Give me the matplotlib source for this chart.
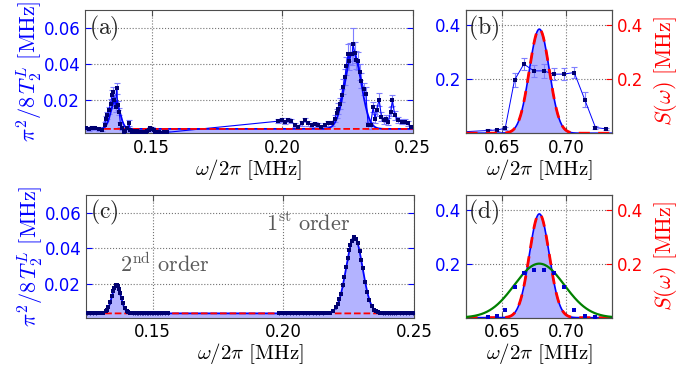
#!/usr/bin/env python3
"""
Relaxation spectrum figure: measured (a,b) and simulated (c,d) pi^2/8T2 vs
drive frequency, with the fitted noise spectrum S(w) on the right panels.

    python3 plot.py
"""

import numpy as np
import matplotlib
matplotlib.use("Agg")
import matplotlib.pyplot as plt

plt.rcParams["mathtext.fontset"] = "cm"

# ---- panel (a): measured, low-frequency scan ---------------------------
A_FREQ_LO = [0.1247, 0.1259, 0.1272, 0.1285, 0.1298, 0.1310, 0.1320, 0.1325,
             0.1330, 0.1336, 0.1343, 0.1349, 0.1353, 0.1358, 0.1362, 0.1366,
             0.1371, 0.1376, 0.1381, 0.1387, 0.1394, 0.1400, 0.1407, 0.1413,
             0.1419, 0.1426, 0.1432, 0.1439, 0.1445, 0.1451, 0.1458, 0.1464,
             0.1471, 0.1477, 0.1483, 0.1490, 0.1496, 0.1502, 0.1509, 0.1515,
             0.1522, 0.1528, 0.1534, 0.1547, 0.1560]
A_T2_LO = [0.0040, 0.0038, 0.0042, 0.0040, 0.0036, 0.0033, 0.0058, 0.0095,
           0.0113, 0.0141, 0.0178, 0.0224, 0.0242, 0.0196, 0.0159, 0.0264,
           0.0170, 0.0132, 0.0062, 0.0040, 0.0021, 0.0025, 0.0040, 0.0070,
           0.0031, 0.0021, 0.0025, 0.0018, 0.0025, 0.0021, 0.0018, 0.0021,
           0.0021, 0.0018, 0.0025, 0.0031, 0.0040, 0.0036, 0.0031, 0.0018,
           0.0018, 0.0018, 0.0016, 0.0018, 0.0018]
A_ERR_LO = [0.0010, 0.0010, 0.0010, 0.0010, 0.0010, 0.0010, 0.0015, 0.0015,
            0.0020, 0.0020, 0.0025, 0.0030, 0.0030, 0.0030, 0.0025, 0.0030,
            0.0025, 0.0020, 0.0015, 0.0010, 0.0010, 0.0010, 0.0010, 0.0015,
            0.0010, 0.0008, 0.0008, 0.0008, 0.0008, 0.0008, 0.0008, 0.0008,
            0.0008, 0.0008, 0.0008, 0.0008, 0.0010, 0.0010, 0.0008, 0.0008,
            0.0008, 0.0008, 0.0008, 0.0008, 0.0008]

# ---- panel (a): measured, high-frequency scan --------------------------
A_FREQ_HI = [0.1985, 0.1998, 0.2011, 0.2024, 0.2036, 0.2049, 0.2062, 0.2075,
             0.2087, 0.2100, 0.2113, 0.2126, 0.2138, 0.2151, 0.2164, 0.2177,
             0.2190, 0.2202, 0.2209, 0.2215, 0.2221, 0.2228, 0.2234, 0.2241,
             0.2247, 0.2253, 0.2257, 0.2262, 0.2269, 0.2272, 0.2279, 0.2285,
             0.2292, 0.2298, 0.2304, 0.2313, 0.2321, 0.2330, 0.2339, 0.2349,
             0.2356, 0.2362, 0.2372, 0.2381, 0.2390, 0.2400, 0.2407, 0.2416,
             0.2423, 0.2432, 0.2445, 0.2458, 0.2470, 0.2483, 0.2496]
A_T2_HI = [0.0080, 0.0086, 0.0077, 0.0086, 0.0080, 0.0058, 0.0049, 0.0068,
           0.0086, 0.0068, 0.0058, 0.0062, 0.0058, 0.0049, 0.0058, 0.0068,
           0.0068, 0.0095, 0.0123, 0.0150, 0.0178, 0.0224, 0.0273, 0.0325,
           0.0389, 0.0453, 0.0416, 0.0457, 0.0453, 0.0508, 0.0462, 0.0420,
           0.0416, 0.0352, 0.0306, 0.0260, 0.0233, 0.0058, 0.0058, 0.0159,
           0.0095, 0.0141, 0.0200, 0.0104, 0.0086, 0.0095, 0.0077, 0.0132,
           0.0196, 0.0113, 0.0086, 0.0077, 0.0077, 0.0068, 0.0046]
A_ERR_HI = [0.0012, 0.0012, 0.0012, 0.0012, 0.0012, 0.0012, 0.0012, 0.0012,
            0.0012, 0.0012, 0.0012, 0.0012, 0.0012, 0.0012, 0.0012, 0.0012,
            0.0015, 0.0020, 0.0025, 0.0030, 0.0030, 0.0035, 0.0040, 0.0045,
            0.0050, 0.0055, 0.0050, 0.0060, 0.0060, 0.0090, 0.0060, 0.0050,
            0.0050, 0.0045, 0.0040, 0.0035, 0.0035, 0.0020, 0.0020, 0.0030,
            0.0025, 0.0030, 0.0035, 0.0025, 0.0020, 0.0020, 0.0020, 0.0025,
            0.0030, 0.0025, 0.0015, 0.0015, 0.0015, 0.0012, 0.0012]

# ---- panel (c): simulated points at the same frequencies ---------------
C_T2_LO = [0.0037, 0.0037, 0.0037, 0.0037, 0.0038, 0.0040, 0.0049, 0.0058,
           0.0073, 0.0098, 0.0134, 0.0164, 0.0181, 0.0194, 0.0196, 0.0190,
           0.0173, 0.0149, 0.0123, 0.0093, 0.0067, 0.0052, 0.0043, 0.0039,
           0.0038, 0.0037, 0.0037, 0.0037, 0.0037, 0.0037, 0.0037, 0.0037,
           0.0037, 0.0037, 0.0037, 0.0037, 0.0037, 0.0037, 0.0037, 0.0037,
           0.0037, 0.0037, 0.0037, 0.0037, 0.0037]
C_T2_HI = [0.0037, 0.0037, 0.0037, 0.0037, 0.0037, 0.0037, 0.0037, 0.0037,
           0.0037, 0.0037, 0.0037, 0.0037, 0.0037, 0.0037, 0.0038, 0.0041,
           0.0050, 0.0070, 0.0091, 0.0116, 0.0148, 0.0193, 0.0239, 0.0296,
           0.0345, 0.0391, 0.0417, 0.0442, 0.0462, 0.0464, 0.0453, 0.0428,
           0.0384, 0.0337, 0.0288, 0.0215, 0.0159, 0.0111, 0.0078, 0.0057,
           0.0048, 0.0043, 0.0039, 0.0037, 0.0037, 0.0037, 0.0037, 0.0037,
           0.0037, 0.0037, 0.0037, 0.0037, 0.0037, 0.0037, 0.0037]
C_ERR = 0.0007

# ---- panels (b), (d): around the carrier -------------------------------
B_FREQ = [0.6180, 0.6388, 0.6458, 0.6523, 0.6596, 0.6669, 0.6747, 0.6823,
          0.6903, 0.6981, 0.7063, 0.7145, 0.7229, 0.7313]
B_T2 = [0.005, 0.010, 0.012, 0.018, 0.196, 0.255, 0.230, 0.230,
        0.218, 0.218, 0.224, 0.124, 0.021, 0.016]
B_ERR = [0.004, 0.005, 0.005, 0.006, 0.027, 0.022, 0.022, 0.025,
         0.022, 0.022, 0.022, 0.027, 0.006, 0.005]
D_FREQ = [0.6388, 0.6458, 0.6523, 0.6596, 0.6669, 0.6747, 0.6823, 0.6903,
          0.6981, 0.7063, 0.7145, 0.7229]
D_T2 = [0.004, 0.008, 0.030, 0.115, 0.164, 0.178, 0.176, 0.164,
        0.113, 0.028, 0.006, 0.003]

# ---- fitted model parameters (center, amplitude, sigma) ----------------
T2_BASE = 0.0037
ORDER2 = (0.1361, 0.0159, 0.0017)
ORDER1 = (0.2272, 0.0427, 0.0031)
S_FIT = (0.679, 0.384, 0.0078)
S_BROAD = (0.679, 0.200, 0.0195)

BLUE = "blue"
NAVY = "#000070"
ERRC = "#7f7fff"
FILL = "#b3b3ff"
GREY = "0.3"

XL_A, YL_A = (0.1245, 0.25), (0.0013, 0.070)
XL_B, YL_B = (0.622, 0.736), (0.0, 0.455)


def gauss(x, c):
    x0, amp, sig = c
    return amp * np.exp(-0.5 * ((x - x0) / sig) ** 2)


def style(ax, left_color=BLUE):
    ax.grid(True, ls=":", color="0.45", lw=0.8)
    ax.set_axisbelow(True)
    for s in ax.spines.values():
        s.set_color(GREY)
    ax.tick_params(direction="in", labelsize=12, length=4)
    ax.tick_params(axis="y", colors=left_color, right=True)
    ax.tick_params(axis="x", colors=GREY, labelcolor="black", top=True, pad=4)


def xlab(ax):
    ax.set_xlabel(r"$\omega/2\pi\ [\mathrm{MHz}]$", fontsize=15, labelpad=0)


def panel_tag(ax, s):
    ax.text(0.012, 0.97, r"$\mathrm{(%s)}$" % s, transform=ax.transAxes,
            fontsize=17, va="top", ha="left", color="0.15")


def left_panel(ax, tag):
    xf = np.linspace(XL_A[0], XL_A[1], 1200)
    model = T2_BASE + gauss(xf, ORDER2) + gauss(xf, ORDER1)
    ax.fill_between(xf, 0, model, color=FILL, lw=0)
    ax.plot(xf, np.full_like(xf, T2_BASE), "--", color="red", lw=1.3, zorder=4)
    style(ax)
    ax.set_xlim(*XL_A)
    ax.set_ylim(*YL_A)
    ax.set_xticks([0.15, 0.20, 0.25])
    ax.set_xticklabels(["0.15", "0.20", "0.25"])
    ax.set_yticks([0.02, 0.04, 0.06])
    ax.set_yticklabels(["0.02", "0.04", "0.06"])
    ax.set_ylabel(r"$\pi^2/8\,T_2^L\ [\mathrm{MHz}]$", color=BLUE, fontsize=16,
                  labelpad=-1)
    xlab(ax)
    panel_tag(ax, tag)
    return xf, model


def right_panel(ax, tag):
    xf = np.linspace(XL_B[0], XL_B[1], 600)
    s = gauss(xf, S_FIT)
    ax.fill_between(xf, 0, s, color=FILL, lw=0)
    ax.plot(xf, s, "-", color=BLUE, lw=1.2, zorder=3)
    style(ax)
    ax.tick_params(axis="y", right=False)
    ax.set_xlim(*XL_B)
    ax.set_ylim(*YL_B)
    ax.set_xticks([0.65, 0.70])
    ax.set_xticklabels(["0.65", "0.70"])
    ax.set_yticks([0.2, 0.4])
    ax.set_yticklabels(["0.2", "0.4"])
    xlab(ax)
    panel_tag(ax, tag)

    tw = ax.twinx()
    tw.set_ylim(*YL_B)
    tw.set_yticks([0.2, 0.4])
    tw.set_yticklabels(["0.2", "0.4"])
    tw.tick_params(direction="in", labelsize=12, length=4, colors="red")
    for sp in tw.spines.values():
        sp.set_color(GREY)
    tw.set_ylabel(r"$S(\omega)\ [\mathrm{MHz}]$", color="red", fontsize=16,
                  labelpad=6)
    tw.plot(xf, s, "--", color="red", lw=2.0, dashes=(4, 3), zorder=5)
    return xf, tw


def main():
    fig = plt.figure(figsize=(6.91, 3.66), dpi=100)
    ax_a = fig.add_axes([0.123, 0.636, 0.474, 0.337])
    ax_b = fig.add_axes([0.675, 0.636, 0.211, 0.337])
    ax_c = fig.add_axes([0.1245, 0.132, 0.4745, 0.336])
    ax_d = fig.add_axes([0.675, 0.132, 0.211, 0.336])

    # (a) measurement
    xf, model = left_panel(ax_a, "a")
    fx = A_FREQ_LO + A_FREQ_HI
    fy = A_T2_LO + A_T2_HI
    fe = A_ERR_LO + A_ERR_HI
    ax_a.errorbar(fx, fy, yerr=fe, fmt="none", ecolor=ERRC, elinewidth=0.8,
                  capsize=2.5, capthick=0.8, zorder=2)
    ax_a.plot(fx, fy, "-", color=BLUE, lw=0.8, zorder=3)
    ax_a.plot(xf, model, "-", color=BLUE, lw=1.3, zorder=3)
    ax_a.plot(fx, fy, "s", color=NAVY, ms=2.6, mew=0, zorder=5)

    # (c) simulation
    xf, model = left_panel(ax_c, "c")
    ax_c.plot(xf, model, "-", color=BLUE, lw=1.3, zorder=3)
    for xs, ys in ((A_FREQ_LO, C_T2_LO), (A_FREQ_HI, C_T2_HI)):
        ax_c.errorbar(xs, ys, yerr=C_ERR, fmt="s", color=NAVY, ms=2.4, mew=0,
                      ecolor=NAVY, elinewidth=0.7, capsize=1.5, capthick=0.7,
                      zorder=5)
    ax_c.text(0.1375, 0.0245, r"$2^{\mathrm{nd}}\ \mathrm{order}$", fontsize=16,
              color="0.35", ha="left", va="bottom")
    ax_c.text(0.1934, 0.0478, r"$1^{\mathrm{st}}\ \mathrm{order}$", fontsize=16,
              color="0.35", ha="left", va="bottom")

    # (b) measurement near the carrier
    right_panel(ax_b, "b")
    ax_b.errorbar(B_FREQ, B_T2, yerr=B_ERR, fmt="none", ecolor=ERRC,
                  elinewidth=0.8, capsize=2.5, capthick=0.8, zorder=2)
    ax_b.plot(B_FREQ, B_T2, "-", color=BLUE, lw=0.7, zorder=3)
    ax_b.plot(B_FREQ, B_T2, "s", color=NAVY, ms=2.6, mew=0, zorder=6)

    # (d) simulation near the carrier
    xf, tw = right_panel(ax_d, "d")
    tw.plot(xf, gauss(xf, S_BROAD), "-", color="green", lw=1.6, zorder=6)
    tw.plot(D_FREQ, D_T2, "s", color="#0000cc", ms=2.6, mew=0, zorder=7)

    fig.savefig("out.png", dpi=100)
    plt.close(fig)


if __name__ == "__main__":
    main()
